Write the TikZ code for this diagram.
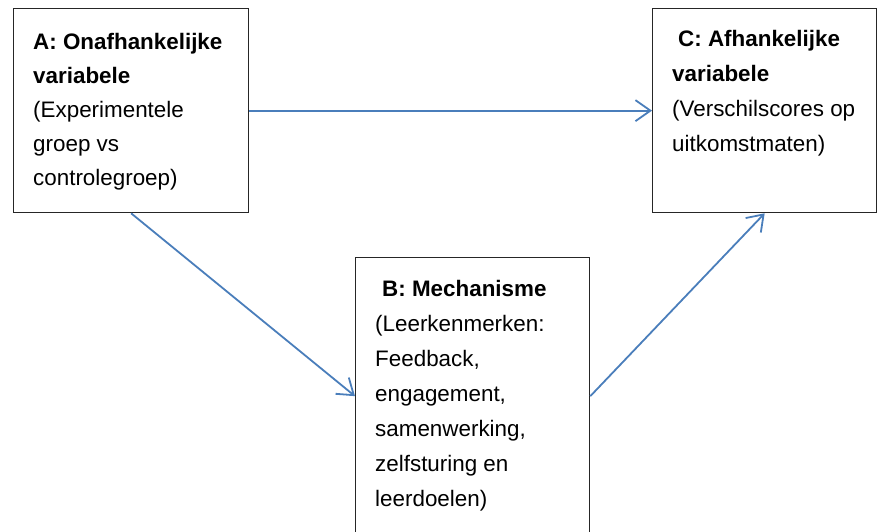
\documentclass[tikz,border=0pt]{standalone}
\usepackage{fontspec}
\setmainfont{Liberation Sans}
\usetikzlibrary{arrows.meta}
\definecolor{linkblue}{RGB}{74,126,187}
\begin{document}
\begin{tikzpicture}[x=1pt,y=-1pt,
  box/.style={draw=black!85, line width=1.3pt, inner sep=0pt, anchor=north west},
  boxtext/.style={anchor=north west, inner sep=0pt, align=left, font=\fontsize{22.4}{35}\selectfont},
  link/.style={draw=linkblue, line width=1.8pt,
    -{Straight Barb[length=15pt,width=21pt,line width=1.8pt]}}]
\useasboundingbox (0,0) rectangle (877,531);
\clip (0,0) rectangle (877,531);

% boxes
\node[box, minimum width=235pt, minimum height=204pt] (A) at (13,8) {};
\node[box, minimum width=224pt, minimum height=204pt] (C) at (652,8) {};
\node[box, minimum width=234pt, minimum height=277pt] (B) at (355,257) {};

% box texts
\node[boxtext, font=\fontsize{22.4}{34}\selectfont] (Atext) at (33,31)
  {\rule{0pt}{18pt}\textbf{A: Onafhankelijke}\\ \textbf{variabele}\\ (Experimentele\\ groep vs\\ controlegroep)};
\node[boxtext] (Ctext) at (672,28)
  {\rule{0pt}{18pt}\hspace*{6pt}\textbf{C: Afhankelijke}\\ \textbf{variabele}\\ (Verschilscores op\\ uitkomstmaten)};
\node[boxtext] (Btext) at (375,278)
  {\rule{0pt}{18pt}\hspace*{7pt}\textbf{B: Mechanisme}\\ (Leerkenmerken:\\ Feedback,\\ engagement,\\ samenwerking,\\ zelfsturing en\\ leerdoelen)};

% connectors
\draw[link] (A.east) -- (C.west);
\draw[link] (A.south) -- (B.west);
\draw[link] (B.east) -- (C.south);
\end{tikzpicture}
\end{document}
